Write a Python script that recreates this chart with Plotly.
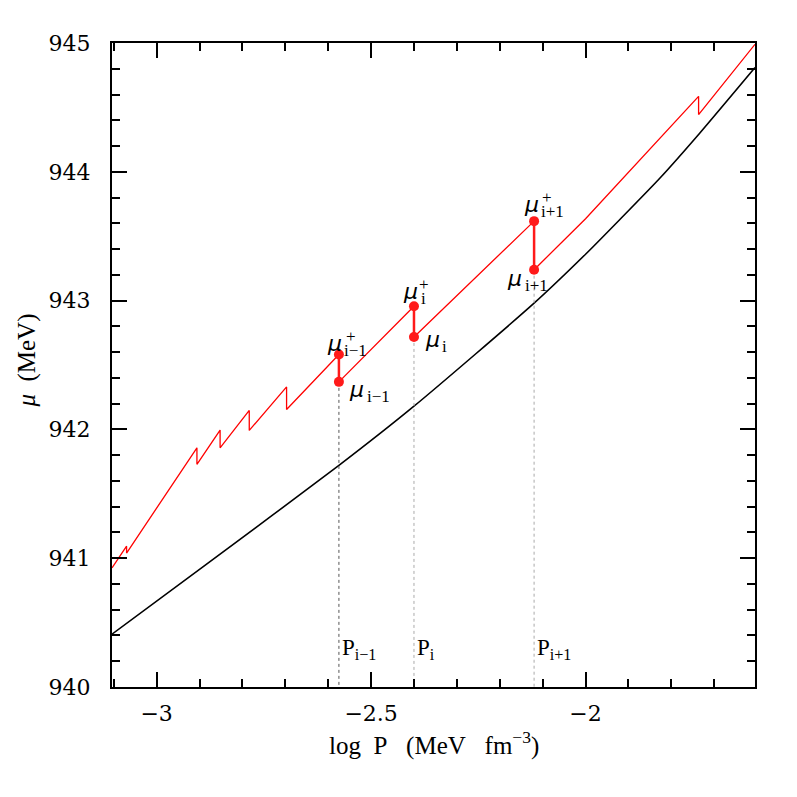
import plotly.graph_objects as go

# chemical potential vs log pressure
red_x = [-3.104, -3.070, -3.070, -2.906, -2.906, -2.852, -2.852, -2.784, -2.784,
         -2.697, -2.697, -2.575, -2.575, -2.400, -2.400, -2.120, -2.120, -2.000,
         -1.7365, -1.7365, -1.605]
red_y = [940.925, 941.093, 941.040, 941.857, 941.729, 941.995, 941.857, 942.147, 941.992,
         942.330, 942.155, 942.581, 942.369, 942.956, 942.718, 943.617, 943.240, 943.635,
         944.586, 944.444, 944.990]

black_x = [-3.104, -2.885, -2.575, -2.400, -2.120, -2.000, -1.920, -1.827, -1.734, -1.605]
black_y = [940.41, 940.95, 941.72, 942.18, 942.98, 943.36, 943.63, 943.95, 944.30, 944.81]

# marked pressures and the jumps of mu there
p_vals = [-2.575, -2.400, -2.120]
mu_plus = [942.581, 942.956, 943.617]
mu_low = [942.369, 942.718, 943.240]
p_subs = ["i−1", "i", "i+1"]
dot_colors = ["#555555", "#aaaaaa", "#aaaaaa"]

fig = go.Figure()

fig.add_trace(go.Scatter(x=black_x, y=black_y, mode="lines",
                         line=dict(color="black", width=1.6, shape="spline", smoothing=0.6),
                         showlegend=False))
fig.add_trace(go.Scatter(x=red_x, y=red_y, mode="lines",
                         line=dict(color="#ff0000", width=1.3), showlegend=False))

for p, mp, ml, c in zip(p_vals, mu_plus, mu_low, dot_colors):
    fig.add_trace(go.Scatter(x=[p, p], y=[ml, 940], mode="lines",
                             line=dict(color=c, width=1, dash="dot"), showlegend=False))
    fig.add_trace(go.Scatter(x=[p, p], y=[mp, ml], mode="lines+markers",
                             line=dict(color="#ff1a1a", width=2.5),
                             marker=dict(color="#ff1a1a", size=10), showlegend=False))

ann = []
MU_FONT = dict(family="DejaVu Sans", size=22, color="black")
SUB_FONT = dict(family="Liberation Serif", size=17, color="black")


def mu_label(x, y, dx, dy, sub, sub_dx, plus_dx=None):
    # dx, dy: screen offset (px, y down) of the mu glyph centre from the point
    ann.append(dict(x=x, y=y, xref="x", yref="y", text="<i>μ</i>", showarrow=False,
                    xanchor="left", yanchor="middle", xshift=dx - 2, yshift=-dy + 4,
                    font=MU_FONT))
    ann.append(dict(x=x, y=y, xref="x", yref="y", text=sub, showarrow=False,
                    xanchor="left", yanchor="middle", xshift=dx + sub_dx, yshift=-dy - 3,
                    font=SUB_FONT))
    if plus_dx is not None:
        ann.append(dict(x=x, y=y, xref="x", yref="y", text="+", showarrow=False,
                        xanchor="left", yanchor="middle", xshift=dx + plus_dx,
                        yshift=-dy + 11, font=SUB_FONT))


mu_label(p_vals[0], mu_plus[0], -11.6, -7, "i−1", 15, 17)
mu_label(p_vals[0], mu_low[0], 10, 11.6, "i−1", 16)
mu_label(p_vals[1], mu_plus[1], -10.5, -11, "i", 16, 14)
mu_label(p_vals[1], mu_low[1], 11, 7, "i", 15.5)
mu_label(p_vals[2], mu_plus[2], -10.5, -12.5, "i+1", 15, 16)
mu_label(p_vals[2], mu_low[2], -27.5, 13, "i+1", 16)

for p, s in zip(p_vals, p_subs):
    ann.append(dict(x=p, y=940, xref="x", yref="y", text="P<sub>" + s + "</sub>",
                    showarrow=False, xanchor="left", yanchor="middle",
                    xshift=1, yshift=38,
                    font=dict(family="Liberation Serif", size=23, color="black")))

ann.append(dict(x=0.5, y=-0.087, xref="paper", yref="paper",
                text="log&nbsp; P&nbsp;&nbsp; (MeV&nbsp;&nbsp; fm<sup>−3</sup>)",
                showarrow=False, xanchor="center", yanchor="middle",
                font=dict(family="Liberation Serif", size=25, color="black")))
ann.append(dict(x=-0.132, y=0.507, xref="paper", yref="paper",
                text="<i>μ</i>&nbsp; (MeV)", textangle=-90,
                showarrow=False, xanchor="center", yanchor="middle",
                font=dict(family="Liberation Serif", size=25, color="black")))

axis_common = dict(showline=True, linecolor="black", linewidth=2, mirror="allticks",
                   ticks="inside", ticklen=15, tickwidth=1.5, tickcolor="black",
                   showgrid=False, zeroline=False,
                   tickfont=dict(family="DejaVu Serif", size=22, color="black"))

# the page body adds an 8 px offset, so margins are shifted to keep the frame in place
fig.update_layout(
    width=797, height=797,
    margin=dict(l=104, r=50, t=35, b=118),
    paper_bgcolor="white", plot_bgcolor="white",
    xaxis=dict(range=[-3.104, -1.605], tick0=-3, dtick=0.5,
               minor=dict(dtick=0.1, tick0=-3, ticklen=8, tickwidth=1.5,
                          ticks="inside", tickcolor="black"),
               ticklabelstandoff=6, **axis_common),
    yaxis=dict(range=[940, 945], tick0=940, dtick=1,
               minor=dict(dtick=0.2, tick0=940, ticklen=8, tickwidth=1.5,
                          ticks="inside", tickcolor="black"),
               ticklabelstandoff=15, **axis_common),
    annotations=ann,
)

fig.write_html("out.html")
